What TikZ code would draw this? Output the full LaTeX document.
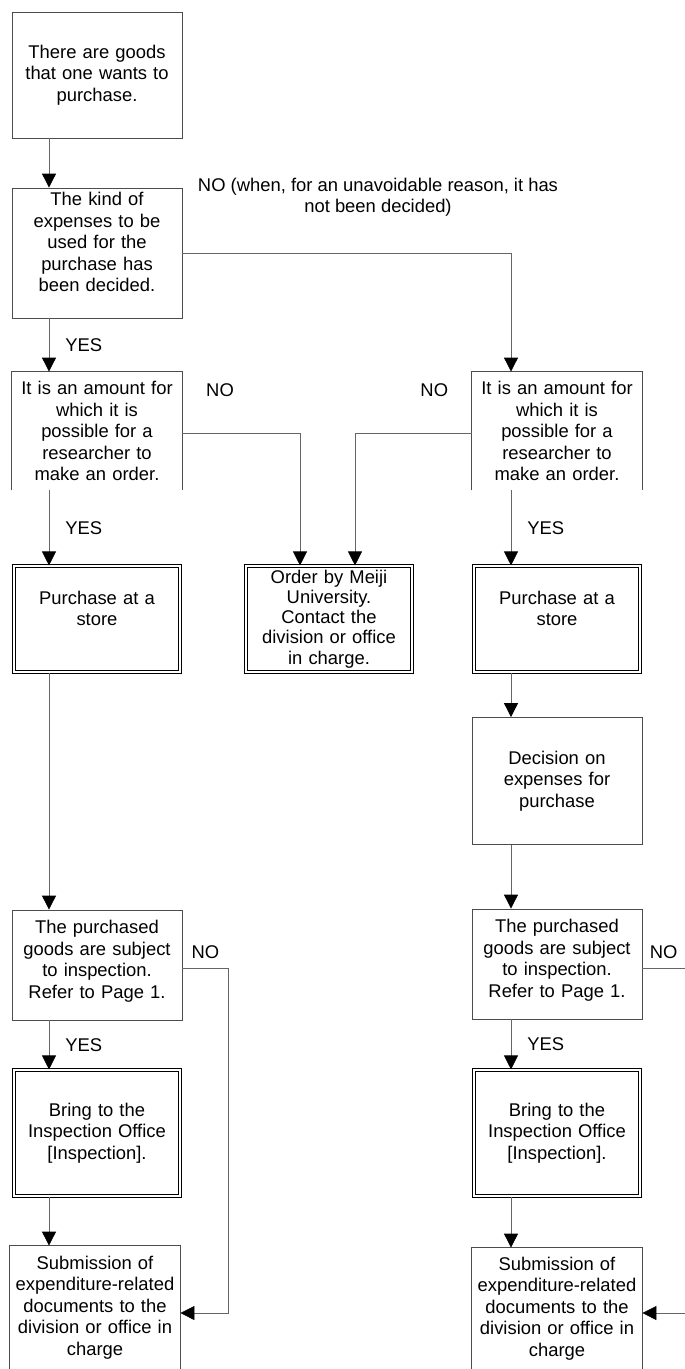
\documentclass[tikz,border=0pt]{standalone}
\usepackage{fontspec}
\setmainfont{Liberation Sans}
\usetikzlibrary{arrows.meta,calc}

\tikzset{
  boxfont/.style={font=\fontsize{18.4}{21.5}\selectfont},
  flowbox/.style={boxfont, draw=black!70, line width=0.8pt, minimum width=170pt,
    text width=166pt, align=center, inner sep=0pt},
  openbox/.style={flowbox, draw=none},
  boxline/.style={draw=black!70, line width=0.8pt},
  strongbox/.style={flowbox, draw=black, double=white, double distance=1.8pt,
    line width=1.1pt, minimum width=166pt},
  link/.style={draw=black!60, line width=0.8pt,
    -{Triangle[length=14pt,width=14pt,color=black]}},
  plain/.style={draw=black!60, line width=0.8pt},
  tag/.style={boxfont, inner sep=0pt},
}

\begin{document}
\begin{tikzpicture}[x=1pt,y=-1pt]
  \useasboundingbox (0,0) rectangle (685,1369);

  % left column
  \node[flowbox, minimum height=126pt] (want) at (97,75)
    {There are goods\\that one wants to\\purchase.};
  \node[flowbox, minimum height=130pt] (kind) at (97,253)
    {The kind of\\expenses to be\\used for the\\purchase has\\been decided.\\\mbox{}};
  \node[openbox, minimum height=118pt] (amountL) at (97,431)
    {It is an amount for\\which it is\\possible for a\\researcher to\\make an order.};
  \draw[boxline] (amountL.south west) -- (amountL.north west) -- (amountL.north east) -- (amountL.south east);
  \node[strongbox, minimum height=106pt] (storeL) at (97,619) {Purchase at a\\store\\\mbox{}};
  \node[flowbox, minimum height=110pt] (inspL) at (97,965)
    {The purchased\\goods are subject\\to inspection.\\Refer to Page 1.\\[-10pt]\mbox{}};
  \node[strongbox, minimum height=126pt] (bringL) at (97,1133)
    {Bring to the\\Inspection Office\\{[Inspection].}};
  \node[openbox, minimum height=123pt] (submitL) at (95,1307.5)
    {Submission of\\expenditure-related\\documents to the\\division or office in\\charge};
  \draw[boxline] (submitL.south west) -- (submitL.north west) -- (submitL.north east) -- (submitL.south east);

  % middle
  \node[strongbox, minimum height=106pt, font=\fontsize{18.4}{20.2}\selectfont] (meiji) at (329,619)
    {Order by Meiji\\University.\\Contact the\\division or office\\in charge.};

  % right column
  \node[openbox, minimum height=118pt] (amountR) at (557,431)
    {It is an amount for\\which it is\\possible for a\\researcher to\\make an order.};
  \draw[boxline] (amountR.south west) -- (amountR.north west) -- (amountR.north east) -- (amountR.south east);
  \node[strongbox, minimum height=106pt] (storeR) at (557,619) {Purchase at a\\store\\\mbox{}};
  \node[flowbox, minimum height=127pt] (decide) at (557,781)
    {Decision on\\expenses for\\purchase};
  \node[flowbox, minimum height=110pt] (inspR) at (557,964)
    {The purchased\\goods are subject\\to inspection.\\Refer to Page 1.\\[-10pt]\mbox{}};
  \node[strongbox, minimum height=126pt] (bringR) at (557,1133)
    {Bring to the\\Inspection Office\\{[Inspection].}};
  \node[openbox, minimum height=121pt] (submitR) at (557,1308.5)
    {Submission of\\expenditure-related\\documents to the\\division or office in\\charge};
  \draw[boxline] (submitR.south west) -- (submitR.north west) -- (submitR.north east) -- (submitR.south east);

  \node[tag, align=center] (undecided) at (378,197)
    {NO (when, for an unavoidable reason, it has\\not been decided)};

  % connectors, left
  \draw[link] ([xshift=-48pt]want.south) -- ([xshift=-48pt]kind.north);
  \draw[link] ([xshift=-48pt]kind.south) -- node[tag, right=16pt] {YES} ([xshift=-48pt]amountL.north);
  \draw[link] ([xshift=-48pt]amountL.south) -- node[tag, right=16pt] {YES} ([xshift=-48pt]storeL.north);
  \draw[link] ([xshift=-48pt]storeL.south) -- ([xshift=-48pt]inspL.north);
  \draw[link] ([xshift=-48pt]inspL.south) -- node[tag, right=16pt] {YES} ([xshift=-48pt]bringL.north);
  \draw[link] ([xshift=-48pt]bringL.south) -- ([xshift=-46pt]submitL.north);
  \draw[link] ([yshift=-3pt]inspL.east) -- node[tag, above=9pt] {NO} ++(46,0) |- ([yshift=-5.5pt]submitL.east);

  % connectors, across
  \draw[link] (kind.east) -| ([xshift=-46pt]amountR.north);
  \draw[link] ([yshift=-2pt]amountL.east) -| node[tag, pos=0.16, above=36pt] {NO} ([xshift=-29pt]meiji.north);
  \draw[link] ([yshift=-2pt]amountR.west) -| node[tag, pos=0.16, above=36pt] {NO} ([xshift=26pt]meiji.north);

  % connectors, right
  \draw[link] ([xshift=-46pt]amountR.south) -- node[tag, right=16pt] {YES} ([xshift=-46pt]storeR.north);
  \draw[link] ([xshift=-46pt]storeR.south) -- ([xshift=-46pt]decide.north);
  \draw[link] ([xshift=-46pt]decide.south) -- ([xshift=-46pt]inspR.north);
  \draw[link] ([xshift=-46pt]inspR.south) -- node[tag, right=16pt] {YES} ([xshift=-46pt]bringR.north);
  \draw[link] ([xshift=-46pt]bringR.south) -- ([xshift=-46pt]submitR.north);
  \coordinate (edgeA) at (685,968);
  \coordinate (edgeB) at (685,1313);
  \draw[plain] ([yshift=-4pt]inspR.east) -- node[tag, above=9pt] {NO} (edgeA);
  \draw[link] (edgeB) -- ([yshift=-4.5pt]submitR.east);
\end{tikzpicture}
\end{document}
